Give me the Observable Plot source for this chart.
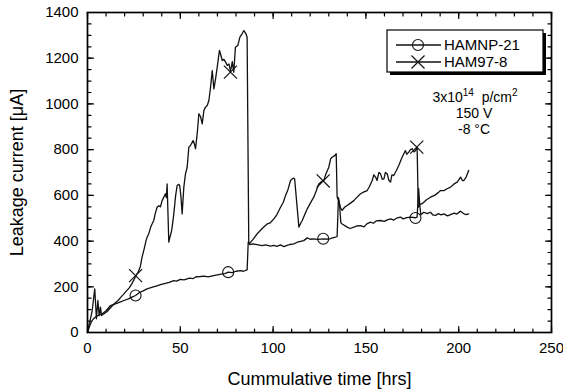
<!DOCTYPE html>
<html><head><meta charset="utf-8">
<script src="https://cdn.jsdelivr.net/npm/d3@7"></script>
<script src="https://cdn.jsdelivr.net/npm/@observablehq/plot@0.6"></script>
<style>body{margin:0;background:#fff}</style>
</head><body><div id="chart"></div>
<script>
// ---- data ----
const hamnpT = [0,1,2,3,4,5,6,7,8,10,12.4,15,17.5,19.6,22,24,25.9,28,30,32.1,35,37,39.3,42,44,46.5,48,50,52,53.7,55,57,58.5,60.9,63,65,68,70,72,74,75.8,78,80,82.4,84,86,86.6,87.5,89,91.4,94,96,98.7,100.4,102,104,105.8,107.6,109,111.2,113,116.5,118.4,120,121.9,124,127.3,130,132,133.6,134.5,135.2,135.8,136.5,137.2,139.9,141.5,143.5,145,147.1,149,150.5,152.5,154,155.5,157.9,160,161.5,163.3,165,166.5,168.6,170,172,174,176.7,177.6,178.4,179,179.6,181.2,183,184.8,186,187.5,189,190.5,192,194,195.6,197.5,199,201,202.8,204,205.4];
const hamnpI = [0,25,45,58,66,72,76,79,82,95,118,125,133,140,147,155,162,175,182,191,198,203,209,215,219,227,225,232,230,235,238,236,244,245,247,243,249,252,255,258,264,262,268,271,268,274,395,385,388,384,380,383,378,381,377,383,376,381,385,388,395,402,414,408,410,407,410,408,414,417,420,590,560,480,475,461,455,461,466,468,462,475,483,478,488,490,486,493,497,492,500,505,497,503,505,502,505,630,560,515,526,520,526,515,512,520,515,519,510,516,522,518,531,519,516,519];

const ham97T = [0,0.7,1.6,2.5,3.3,3.9,4.4,4.8,5.6,6.3,7.0,7.5,8.5,10.6,12,13.5,15,16.5,18,19.5,21,22.5,24,25.9,27.5,28.5,29.4,30.5,31.5,32.1,33,34,34.8,35.7,36.5,37.5,38.5,39.3,40.2,41,42,42.5,42.9,43.8,44.5,45.2,45.6,46.5,47.5,48.3,49.2,49.7,50.4,51,51.9,52.8,53.7,54.6,55.5,56.9,57.6,58.2,59.1,60,60.9,61.8,62.7,63.5,64.5,65.4,66.3,67.2,68.1,69,69.9,71.1,71.8,72.6,73.5,74.4,75.3,76.2,77,77.5,78,78.8,79.7,81,82.1,83.2,84.2,85.2,86,86.9,87.5,89,91.4,93,94.5,96.8,98.5,100.4,102,104,105.5,106.7,108,109.4,110.3,111.2,111.6,113.9,115,115.7,117,118.4,120,121.9,123,124.6,126,127.3,128.5,130,131,131.8,133.2,134,134.5,135.4,136.3,137.2,138.5,139.9,141.5,143.5,145,147.1,149,150.7,152,153.4,154.3,155.2,156,157,157.9,158.8,159.7,160.5,161.5,162.4,163.3,164,165,166.5,167.7,169.5,171.3,172,173.1,174,175,176,176.7,177.6,178.2,179.4,180.3,182.5,184.8,187,189,190.2,192,194,195.6,197.5,199.2,201,202,202.8,204,205.4];
const ham97I = [2,30,60,95,150,191,120,60,140,74,111,74,80,92,105,118,130,140,155,168,182,195,215,245,268,290,330,365,400,417,432,460,475,490,520,548,555,550,577,590,607,590,650,395,420,440,461,519,600,643,648,643,590,519,636,694,723,811,818,840,825,804,869,957,945,913,971,985,993,1015,1073,1146,1066,1110,1161,1234,1215,1190,1195,1183,1168,1175,1146,1160,1185,1139,1248,1256,1292,1305,1321,1310,1292,390,392,405,432,445,458,475,480,497,515,548,570,599,625,665,672,675,672,461,480,490,515,541,565,592,615,650,660,665,695,723,760,767,774,782,592,577,545,534,548,556,565,577,590,607,615,621,640,665,690,680,665,700,694,670,672,700,694,665,658,690,687,710,731,767,796,780,789,800,804,790,796,810,548,563,563,580,592,600,612,621,621,630,636,650,658,680,665,665,680,709];

const hamnpMarkT = [25.9, 75.8, 127, 176.7];
const hamnpMarkI = [162, 264, 410, 501];
const ham97MarkT = [25.9, 77, 127, 177.4];
const ham97MarkI = [249, 1139, 663, 811];

const xMajor = [0, 50, 100, 150, 200, 250];
const xMinor = d3.range(0, 251, 10);
const yMajor = [0, 200, 400, 600, 800, 1000, 1200, 1400];
const yMinor = d3.range(0, 1401, 50);

const seriesNames = ["HAMNP-21", "HAM97-8"];
const xTitle = "Cummulative time [hrs]";
const yTitle = "Leakage current [μA]";

// ---- build ----
const font = "'Liberation Sans', Arial, Helvetica, sans-serif";
const hamnp = hamnpT.map((t, i) => ({t, v: hamnpI[i]}));
const ham97 = ham97T.map((t, i) => ({t, v: ham97I[i]}));
const hamnpM = hamnpMarkT.map((t, i) => ({t, v: hamnpMarkI[i]}));
const ham97M = ham97MarkT.map((t, i) => ({t, v: ham97MarkI[i]}));
const fmt = d => String(d);

// inward tick shape: a straight segment along the vector direction
const tickShape = {draw(context, l) { context.moveTo(0, 0); context.lineTo(0, -l); }};
const ticksX = (values, len) => [
  Plot.vector(values, {x: d => d, frameAnchor: "bottom", length: len, rotate: 0, anchor: "start", shape: tickShape, stroke: "#000", strokeWidth: 1.2}),
  Plot.vector(values, {x: d => d, frameAnchor: "top", length: len, rotate: 180, anchor: "start", shape: tickShape, stroke: "#000", strokeWidth: 1.2})
];
const ticksY = (values, len) => [
  Plot.vector(values, {y: d => d, frameAnchor: "left", length: len, rotate: 90, anchor: "start", shape: tickShape, stroke: "#000", strokeWidth: 1.2}),
  Plot.vector(values, {y: d => d, frameAnchor: "right", length: len, rotate: -90, anchor: "start", shape: tickShape, stroke: "#000", strokeWidth: 1.2})
];

const chart = Plot.plot({
  width: 563, height: 392,
  marginLeft: 87, marginRight: 12, marginTop: 12, marginBottom: 60,
  style: {fontFamily: font, fontSize: "15px", color: "#000", background: "#fff", overflow: "visible"},
  x: {domain: [0, 250]},
  y: {domain: [0, 1400]},
  marks: [
    Plot.axisX(xMajor, {anchor: "bottom", tickSize: 0, tickPadding: 10, tickFormat: fmt, label: xTitle, labelAnchor: "center", labelOffset: 52, labelArrow: "none"}),
    Plot.axisY(yMajor, {anchor: "left", tickSize: 0, tickPadding: 9, tickFormat: fmt, label: yTitle, labelAnchor: "center", labelOffset: 77, labelArrow: "none"}),
    ...ticksX(xMajor, 6),
    ...ticksX(xMinor, 3.5),
    ...ticksY(yMajor, 6),
    ...ticksY(yMinor, 3.5),
    Plot.line(hamnp, {x: "t", y: "v", stroke: "#111", strokeWidth: 1.3}),
    Plot.line(ham97, {x: "t", y: "v", stroke: "#111", strokeWidth: 1.3}),
    Plot.dot(hamnpM, {x: "t", y: "v", r: 5.5, stroke: "#111", strokeWidth: 1.1, fill: "none"}),
    Plot.dot(ham97M, {x: "t", y: "v", r: 6, symbol: "times", stroke: "#111", strokeWidth: 1.2}),
    Plot.frame({stroke: "#000", strokeWidth: 1.7})
  ]
});
document.getElementById("chart").appendChild(chart);

const svg = d3.select(chart);
svg.selectAll('g[aria-label="x-axis label"] text, g[aria-label="y-axis label"] text').attr("font-size", "18px");

// legend
const lg = svg.append("g").attr("font-family", font).attr("font-size", "15px").attr("text-anchor", "start");
lg.append("rect").attr("x", 390).attr("y", 33).attr("width", 156).attr("height", 42).attr("fill", "#000");
lg.append("rect").attr("x", 387).attr("y", 30).attr("width", 156).attr("height", 42).attr("fill", "#fff").attr("stroke", "#000").attr("stroke-width", 1.2);
const rows = [45, 62];
seriesNames.forEach((name, i) => {
  const y = rows[i];
  lg.append("line").attr("x1", 396).attr("x2", 441).attr("y1", y).attr("y2", y).attr("stroke", "#111").attr("stroke-width", 1.3);
  if (i === 0) {
    lg.append("circle").attr("cx", 418).attr("cy", y).attr("r", 5.5).attr("fill", "none").attr("stroke", "#111").attr("stroke-width", 1.1);
  } else {
    lg.append("path").attr("transform", `translate(418,${y})`).attr("d", d3.symbol(d3.symbolTimes, 113)()).attr("fill", "none").attr("stroke", "#111").attr("stroke-width", 1.2);
  }
  lg.append("text").attr("x", 444).attr("y", y).attr("dy", "0.35em").text(name);
});

// annotation
const an = svg.append("g").attr("font-family", font).attr("font-size", "14px").attr("text-anchor", "middle");
const t1 = an.append("text").attr("x", 475).attr("y", 102);
t1.append("tspan").text("3x10");
t1.append("tspan").attr("dy", -6).attr("font-size", "10px").text("14");
t1.append("tspan").attr("dy", 6).text("\u00a0\u00a0p/cm");
t1.append("tspan").attr("dy", -6).attr("font-size", "10px").text("2");
an.append("text").attr("x", 474).attr("y", 118).text("150 V");
an.append("text").attr("x", 474).attr("y", 134).text("-8 °C");
</script>
</body></html>
